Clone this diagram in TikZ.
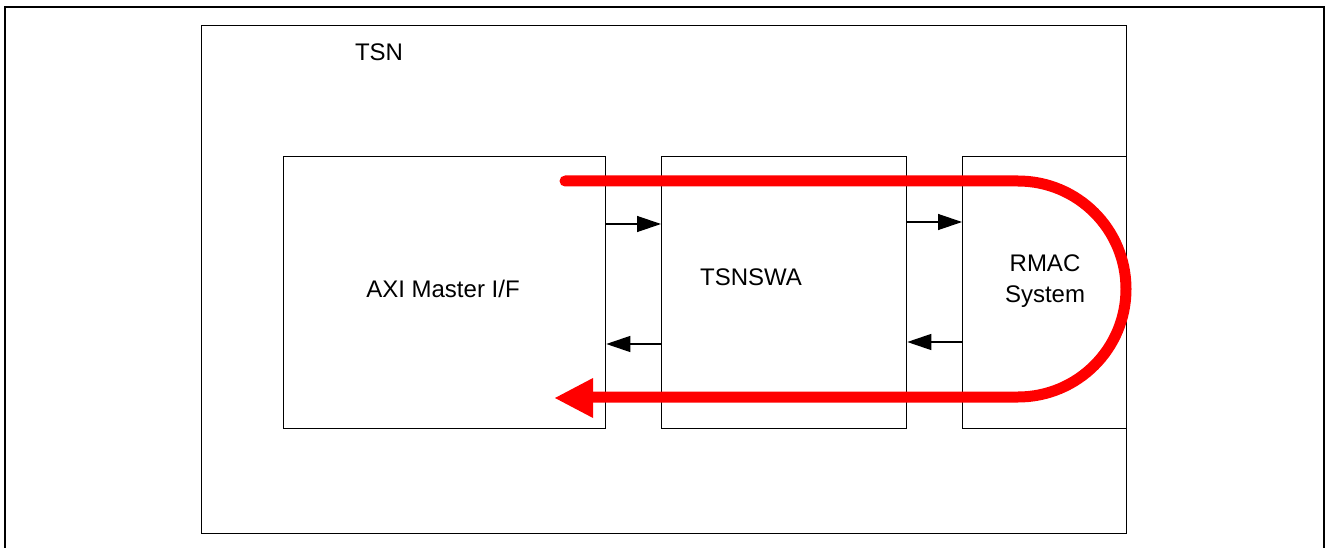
\documentclass[tikz,border=0pt]{standalone}
\usepackage{fontspec}
\setmainfont{Liberation Sans}
\usetikzlibrary{arrows.meta}
\begin{document}
\begin{tikzpicture}[x=1pt,y=-1pt,
  blk/.style={draw=black, line width=1.3pt, inner sep=0pt, anchor=north west},
  lbl/.style={font=\fontsize{24}{31}\selectfont, align=center, inner sep=0pt},
  sig/.style={draw=black, line width=1.3pt, -{Triangle[length=24pt,width=16pt]}},
  flow/.style={draw=red, line width=11pt, line cap=round}
]
\useasboundingbox (0,0) rectangle (1328,548);
% outer frame (open at bottom)
\draw[line width=2.5pt] (5,548) -- (5,7) -- (1324,7) -- (1324,548);
% blocks
\node[blk, minimum width=925pt, minimum height=508pt] (tsn) at (201,25) {};
\node[blk, minimum width=322pt, minimum height=272pt] (axi) at (283,156) {};
\node[blk, minimum width=245pt, minimum height=272pt] (sw) at (661,156) {};
\node[blk, minimum width=164pt, minimum height=272pt] (rmac) at (962,156) {};
% labels
\node[lbl] (tsnl) at (379,52) {TSN};
\node[lbl] (axil) at (443,289) {AXI Master I/F};
\node[lbl] (swl) at (751,277) {TSNSWA};
\node[lbl] (rmacl) at (1045,281) {RMAC\\System};
% small signal arrows
\coordinate (a1) at (axi.east |- 0,224);
\coordinate (s1) at (sw.west |- 0,224);
\coordinate (a2) at (axi.east |- 0,344);
\coordinate (s2) at (sw.west |- 0,344);
\coordinate (s3) at (sw.east |- 0,222);
\coordinate (r3) at (rmac.west |- 0,222);
\coordinate (s4) at (sw.east |- 0,342);
\coordinate (r4) at (rmac.west |- 0,342);
\draw[sig] (a1) -- (s1);
\draw[sig] (s2) -- (a2);
\draw[sig] (s3) -- (r3);
\draw[sig] (r4) -- (s4);
% red flow
\coordinate (fs) at (565,181);
\coordinate (ft) at (1018,181);
\coordinate (fe) at (590,397);
\coordinate (tip) at (555,398);
\draw[flow] (fs) -- (ft) arc (-90:90:108) -- (fe);
\fill[red] (tip) -- (593,378) -- (593,418) -- cycle;
\end{tikzpicture}
\end{document}
